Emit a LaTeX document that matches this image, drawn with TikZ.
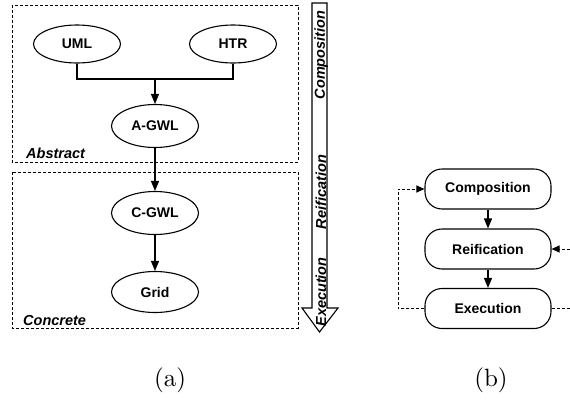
\documentclass[tikz,border=0pt]{standalone}
\usepackage{fontspec}
\newfontfamily\hv{Liberation Sans}
\usetikzlibrary{shapes.geometric,arrows.meta}
\tikzset{
  ell/.style={ellipse,draw,line width=1.1pt,minimum width=87pt,minimum height=40pt,inner sep=0pt,font=\hv\bfseries\fontsize{14}{16}\selectfont},
  rbox/.style={draw,line width=1.1pt,rounded corners=17pt,minimum width=126pt,minimum height=40pt,inner sep=0pt,font=\hv\bfseries\fontsize{14}{16}\selectfont},
  grp/.style={draw,dash pattern=on 3pt off 2pt,line width=0.9pt},
  conn/.style={line width=1.3pt},
  arr/.style={line width=1.3pt,-{Triangle[length=10pt,width=8pt]}},
  dconn/.style={line width=1pt,dash pattern=on 3pt off 2pt},
  sarr/.style={-{Triangle[length=8pt,width=7pt]}},
  lab/.style={font=\hv\bfseries\itshape\fontsize{14.5}{16}\selectfont,inner sep=0pt},
  captxt/.style={scale=2.5,inner sep=0pt}
}
\begin{document}
\begin{tikzpicture}[x=1pt,y=-1pt]
\useasboundingbox (0,0) rectangle (570,399);
% group boxes
\draw[grp] (12,5) rectangle (298,162);
\draw[grp] (12,172) rectangle (298,328);
\node[lab,anchor=base west] (abs) at (26,158) {Abstract};
\node[lab,anchor=base west] (con) at (23,325) {Concrete};
% nodes
\node[ell,minimum height=38pt] (uml) at (77,44) {UML};
\node[ell,minimum height=38pt] (htr) at (233,44) {HTR};
\node[ell,minimum height=43pt] (agwl) at (155,126) {A-GWL};
\node[ell,minimum height=43pt] (cgwl) at (155,213) {C-GWL};
\node[ell,minimum height=41pt] (grid) at (155,292) {Grid};
\coordinate (j) at (155,79);
\draw[conn] (uml.south) |- (j) -| (htr.south);
\draw[arr] (j) -- (agwl.north);
\draw[arr] (agwl.south) -- (cgwl.north);
\draw[arr] (cgwl.south) -- (grid.north);
% big arrow
\draw[line width=1.1pt,fill=white] (312,3) -- (327,3) -- (327,308) -- (338,308) -- (319.5,332) -- (302,308) -- (312,308) -- cycle;
\node[lab,rotate=90] (tc) at (321,55) {Composition};
\node[lab,rotate=90] (tr) at (321,192) {Reification};
\node[lab,rotate=90] (te) at (321,292) {Execution};
% right diagram
\node[rbox] (comp) at (488,189) {Composition};
\node[rbox] (reif) at (488,249) {Reification};
\node[rbox] (exec) at (488,308.5) {Execution};
\draw[arr] (comp.south) -- (reif.north);
\draw[arr] (reif.south) -- (exec.north);
\coordinate (lb) at (398,308.5);
\coordinate (lt) at (398,189);
\coordinate (re) at (570,308.5);
\coordinate (rr) at (570,249);
\draw[dconn,sarr] (exec.west) -- (lb) -- (lt) -- (comp.west);
\draw[dconn] (exec.east) -- (re);
\draw[dconn,sarr] (rr) -- (reif.east);
% captions
\node[captxt] (ca) at (170,380) {(a)};
\node[captxt] (cb) at (491,380) {(b)};
\end{tikzpicture}
\end{document}
